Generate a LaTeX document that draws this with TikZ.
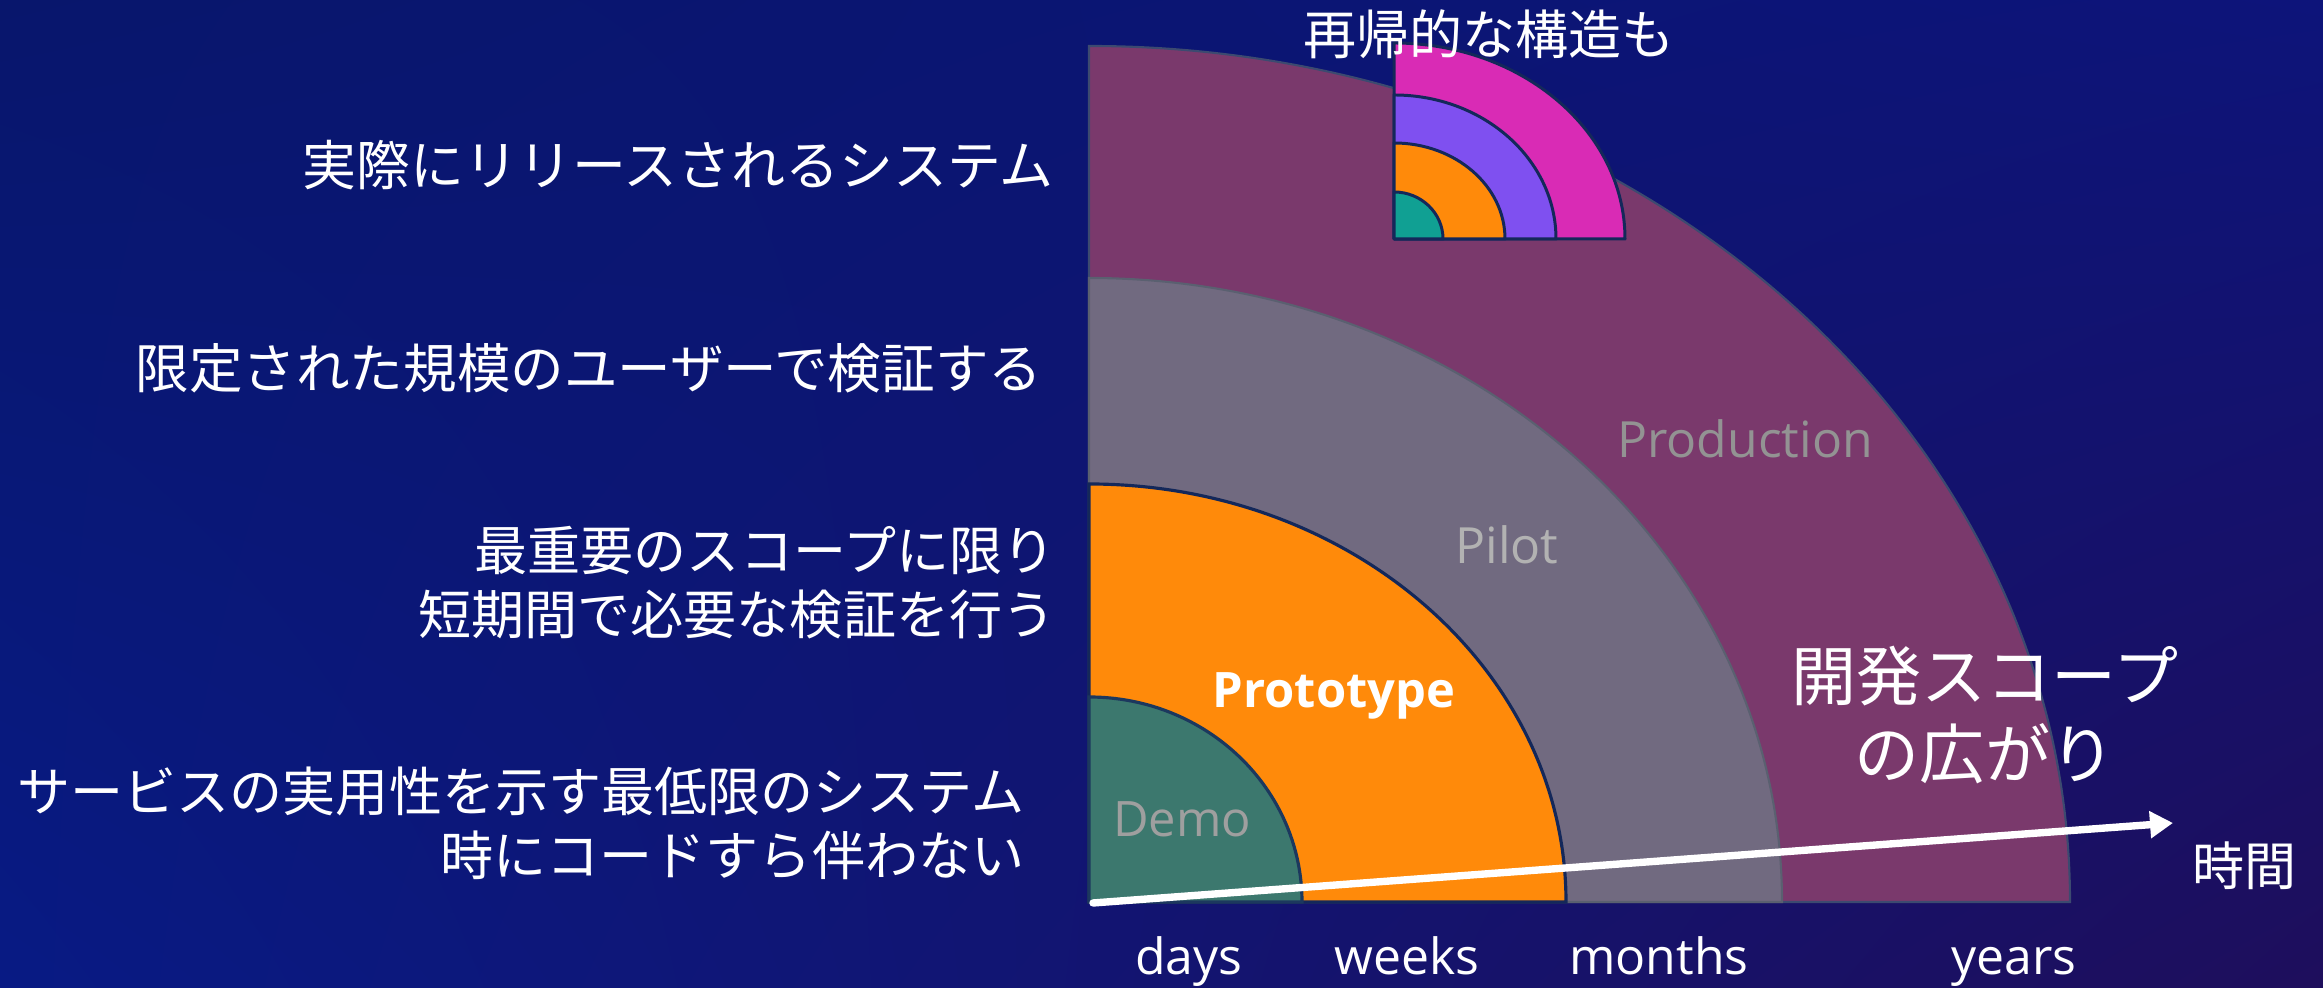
\documentclass[tikz,border=0pt]{standalone}
\usepackage{fontspec}
\setmainfont{Open Sans}
\newfontfamily\jp{Noto Sans CJK JP}
\usetikzlibrary{arrows.meta,shadings}
\definecolor{bgUL}{RGB}{8,22,108}
\definecolor{bgUR}{RGB}{13,20,122}
\definecolor{bgLL}{RGB}{8,26,132}
\definecolor{bgLR}{RGB}{30,14,92}
\definecolor{prodC}{RGB}{122,57,108}
\definecolor{pilotC}{RGB}{113,106,128}
\definecolor{protoC}{RGB}{255,138,10}
\definecolor{demoC}{RGB}{60,120,110}
\definecolor{miniTeal}{RGB}{16,160,147}
\definecolor{miniPurple}{RGB}{127,80,240}
\definecolor{miniMag}{RGB}{217,43,181}
\definecolor{navyLine}{RGB}{20,40,90}
\definecolor{prodLine}{RGB}{60,74,112}
\definecolor{pilotLine}{RGB}{90,96,112}
\tikzset{
  jptext/.style={text=white, inner sep=0pt, font=\jp\fontsize{15.1pt}{18.2pt}\selectfont},
  axislabel/.style={text=white, inner sep=0pt, anchor=base, font=\fontsize{14.2pt}{16pt}\selectfont},
  phaselabel/.style={inner sep=0pt, anchor=base, font=\fontsize{14.2pt}{16pt}\selectfont},
  ministroke/.style={draw=navyLine, line width=0.85pt, line join=round},
}
\begin{document}
\begin{tikzpicture}[x=1cm,y=1cm]
\useasboundingbox (0,0) rectangle (23.23,9.88);
\shade[upper left=bgUL, upper right=bgUR, lower left=bgLL, lower right=bgLR] (0,0) rectangle (23.23,9.88);

\coordinate (O) at (10.89,0.86);
% big quarter ellipses
\fill[prodC, draw=prodLine, line width=0.6pt] (O) -- ++(9.81,0) arc[start angle=0,end angle=90,x radius=9.81cm,y radius=8.56cm] -- cycle;
\fill[pilotC, draw=pilotLine, line width=0.6pt] (O) -- ++(6.93,0) arc[start angle=0,end angle=90,x radius=6.93cm,y radius=6.24cm] -- cycle;
\fill[protoC, draw=navyLine, line width=0.9pt] (O) -- ++(4.77,0) arc[start angle=0,end angle=90,x radius=4.77cm,y radius=4.18cm] -- cycle;
\fill[demoC, draw=navyLine!80!demoC, line width=0.9pt] (O) -- ++(2.13,0) arc[start angle=0,end angle=90,x radius=2.13cm,y radius=2.05cm] -- cycle;

% mini recursive quarter
\coordinate (M) at (13.94,7.49);
\filldraw[fill=miniMag, ministroke] (M) -- ++(2.31,0) arc[start angle=0,end angle=90,x radius=2.31cm,y radius=1.96cm] -- cycle;
\filldraw[fill=miniPurple, ministroke] (M) -- ++(1.62,0) arc[start angle=0,end angle=90,x radius=1.62cm,y radius=1.44cm] -- cycle;
\filldraw[fill=protoC, ministroke] (M) -- ++(1.11,0) arc[start angle=0,end angle=90,x radius=1.11cm,y radius=0.96cm] -- cycle;
\filldraw[fill=miniTeal, ministroke] (M) -- ++(0.49,0) arc[start angle=0,end angle=90,x radius=0.49cm,y radius=0.47cm] -- cycle;

% phase labels
\node[phaselabel, text=gray!85] (prodlbl) at (17.45,5.30) {Production};
\node[phaselabel, text=gray!60] (pilotlbl) at (15.07,4.24) {Pilot};
\node[phaselabel, text=white, font=\bfseries\fontsize{13.9pt}{16pt}\selectfont] (protolbl) at (13.34,2.80) {Prototype};
\node[phaselabel, text=gray!75, font=\fontsize{13.9pt}{16pt}\selectfont] (demolbl) at (11.82,1.51) {Demo};

% left descriptions
\node[jptext, anchor=east, font=\jp\fontsize{15.35pt}{19pt}\selectfont] (d1) at (10.54,8.23) {実際にリリースされるシステム};
\node[jptext, anchor=east, font=\jp\fontsize{15.25pt}{19pt}\selectfont] (d2) at (10.43,6.20) {限定された規模のユーザーで検証する};
\node[jptext, anchor=east, align=right] (d3) at (10.56,4.055) {最重要のスコープに限り\\短期間で必要な検証を行う};
\node[jptext, anchor=east, align=right] (d4) at (10.25,1.645) {サービスの実用性を示す最低限のシステム\\時にコードすら伴わない};

% top and right texts
\node[jptext] (recur) at (14.89,9.54) {再帰的な構造も};
\node[jptext, align=center, font=\jp\fontsize{18.5pt}{22.2pt}\selectfont] (scope) at (19.85,2.73) {開発スコープ\\の広がり};
\node[jptext, font=\jp\fontsize{14.8pt}{17pt}\selectfont] (time) at (22.44,1.22) {時間};

% axis labels
\node[axislabel] (days) at (11.89,0.13) {days};
\node[axislabel] (weeks) at (14.07,0.13) {weeks};
\node[axislabel] (months) at (16.59,0.13) {months};
\node[axislabel] (years) at (20.14,0.13) {years};

% time arrow
\coordinate (tstart) at (10.93,0.85);
\coordinate (tend) at (21.73,1.65);
\draw[white, line width=2.1pt, line cap=round, -{Triangle[length=0.23cm,width=0.26cm]}] (tstart) -- (tend);
\end{tikzpicture}
\end{document}
